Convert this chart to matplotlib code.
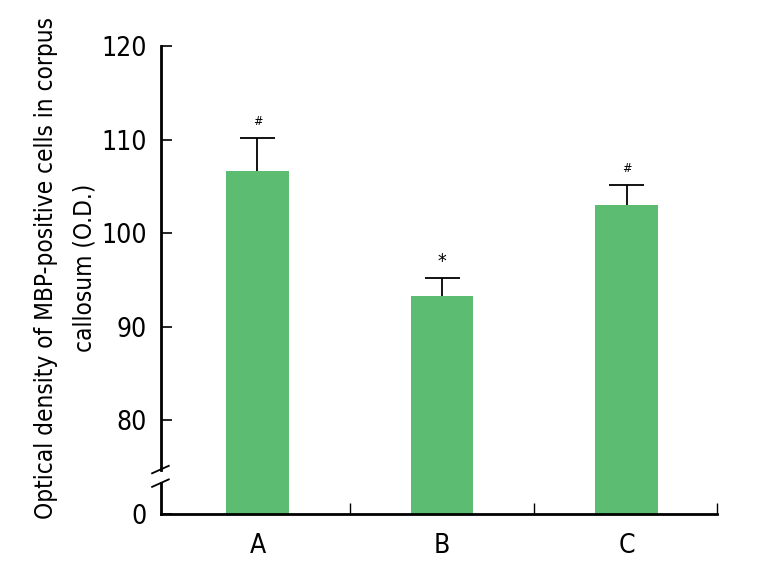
import matplotlib
matplotlib.use("Agg")
import matplotlib.pyplot as plt
from matplotlib import font_manager

# look for a narrow face, the reference uses a condensed grotesque
narrow = None
for f in font_manager.fontManager.ttflist:
    fn = f.fname.lower()
    if ('narrow' in fn or 'condensed' in fn) and 'bold' not in fn and 'italic' not in fn \
            and 'oblique' not in fn and 'light' not in fn:
        narrow = f
        break

if narrow is not None:
    plt.rcParams['font.family'] = [narrow.name, 'DejaVu Sans']
    plt.rcParams['font.stretch'] = narrow.stretch
    tick_fs, label_fs = 19, 17.5
else:
    plt.rcParams['font.family'] = ['DejaVu Sans']
    tick_fs, label_fs = 16, 15

groups = ['A', 'B', 'C']
means = [106.7, 93.3, 103.0]
sd_up = [3.5, 1.9, 2.2]
marks = ['#', '*', '#']
ytick_vals = [70, 80, 90, 100, 110, 120]
ytick_labels = ['0', '80', '90', '100', '110', '120']

base = 70  # axis bottom stands for 0 (broken axis)
green = '#5cbc71'

fig = plt.figure(figsize=(7.83, 5.76), dpi=100)
ax = fig.add_axes([0.2056, 0.1076, 0.7101, 0.8125])

x = list(range(len(groups)))
heights = [m - base for m in means]
ax.bar(x, heights, bottom=base, width=0.337, color=green, zorder=2)
tops = [m + s for m, s in zip(means, sd_up)]
ax.vlines(x, means, tops, color='black', lw=1.3, zorder=3)
ax.hlines(tops, [xi - 0.095 for xi in x], [xi + 0.095 for xi in x],
          color='black', lw=1.3, zorder=3)

for xi, tp, t in zip(x, tops, marks):
    if t == '*':
        ax.text(xi, tp + 0.8, t, ha='center', va='bottom', fontsize=14,
                family='DejaVu Sans')
    else:
        ax.text(xi, tp + 1.0, t, ha='center', va='bottom', fontsize=9)

ax.set_xlim(-0.523, 2.49)
ax.set_ylim(base, 120)
ax.set_xticks([0.5, 1.5, 2.49])
ax.set_xticklabels([])
ax.set_xticks(x, minor=True)
ax.set_xticklabels(groups, minor=True, fontsize=tick_fs)
ax.tick_params(axis='x', which='major', direction='in', length=8, width=1.0)
ax.tick_params(axis='x', which='minor', length=0, pad=14, labelsize=tick_fs)
ax.set_yticks(ytick_vals)
ax.set_yticklabels(ytick_labels)
ax.tick_params(axis='y', direction='in', length=8, width=1.2, pad=10,
               labelsize=tick_fs)

for side in ['top', 'right', 'left']:
    ax.spines[side].set_visible(False)
ax.spines['bottom'].set_linewidth(2)

# left axis drawn in two pieces with a break
yt = ax.get_yaxis_transform()
ax.plot([0, 0], [base, 73.3], color='black', lw=2, transform=yt, clip_on=False, zorder=4)
ax.plot([0, 0], [74.75, 120], color='black', lw=2, transform=yt, clip_on=False, zorder=4)
for yb in [73.3, 74.75]:
    ax.plot([-0.016, 0.014], [yb - 0.4, yb + 0.4], color='black', lw=1.3,
            transform=yt, clip_on=False, zorder=4)

fig.text(0.083, 0.535, 'Optical density of MBP-positive cells in corpus\ncallosum (O.D.)',
         rotation=90, ha='center', va='center', multialignment='center',
         fontsize=label_fs, linespacing=1.75)

plt.savefig('out.png', dpi=100)
